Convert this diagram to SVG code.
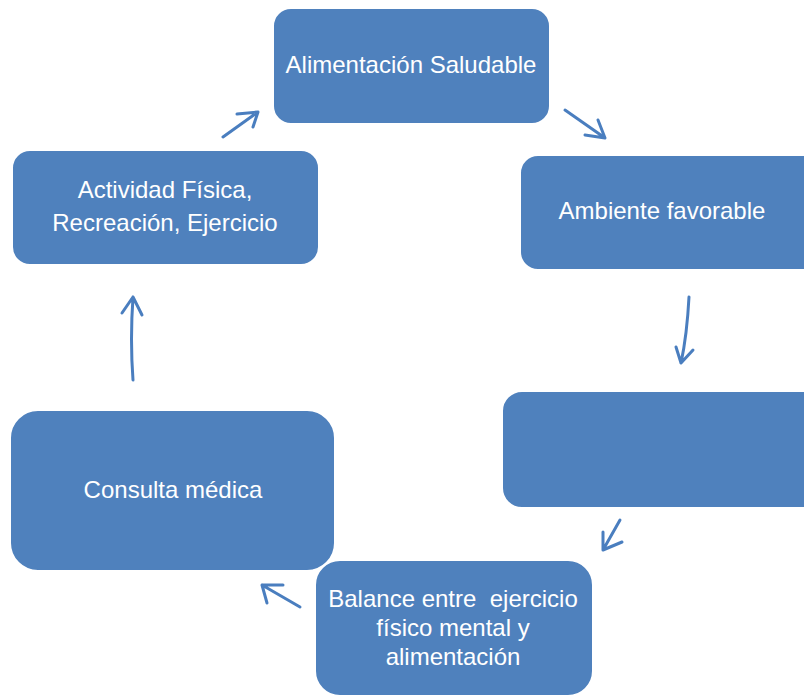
<svg xmlns="http://www.w3.org/2000/svg" width="804" height="697" viewBox="0 0 804 697">
<style>
.box{fill:#4F81BD;stroke:#FFFFFF;stroke-width:2}
.lbl{fill:#FFFFFF;font-family:"Liberation Sans",Arial,sans-serif;font-size:24px;text-anchor:middle;white-space:pre}
.arr{fill:none;stroke:#4A7EBF;stroke-width:3;stroke-linecap:round;stroke-linejoin:round}
</style>
<rect width="804" height="697" fill="#FFFFFF"/>
<g id="connectors">
<path class="arr" d="M223,137 L258,112 M237,114 L258,112 L253,127"/>
<path class="arr" d="M565,110 L605,138 M585,135 L605,138 L598,120"/>
<path class="arr" d="M689,297 Q687,335 681,363 M676,347 L681,363 L693,350"/>
<path class="arr" d="M620,520 L603,550 M603,532 L603,550 L622,542"/>
<path class="arr" d="M300,607 L262,585 M283,585 L262,585 L267,603"/>
<path class="arr" d="M133,380 Q130,340 133,297 M122,313 L133,297 L142,315"/>
</g>
<g id="n1">
<rect class="box" x="273" y="8" width="277" height="116" rx="18"/>
<text class="lbl" x="411" y="73">Alimentación Saludable</text>
</g>
<g id="n2">
<rect class="box" x="520" y="155" width="300" height="115" rx="18"/>
<text class="lbl" x="662" y="219">Ambiente favorable</text>
</g>
<g id="n3">
<rect class="box" x="502" y="391" width="320" height="117" rx="20"/>
</g>
<g id="n5">
<rect class="box" x="10" y="410" width="325" height="161" rx="28"/>
<text class="lbl" x="173" y="498">Consulta médica</text>
</g>
<g id="n4">
<rect class="box" x="315" y="560" width="278" height="136" rx="25"/>
<text class="lbl" x="453" y="607" xml:space="preserve">Balance entre  ejercicio</text>
<text class="lbl" x="453" y="636">físico mental y</text>
<text class="lbl" x="453" y="665">alimentación</text>
</g>
<g id="n6">
<rect class="box" x="12" y="150" width="307" height="115" rx="18"/>
<text class="lbl" x="165" y="198">Actividad Física,</text>
<text class="lbl" x="165" y="231">Recreación, Ejercicio</text>
</g>
</svg>
